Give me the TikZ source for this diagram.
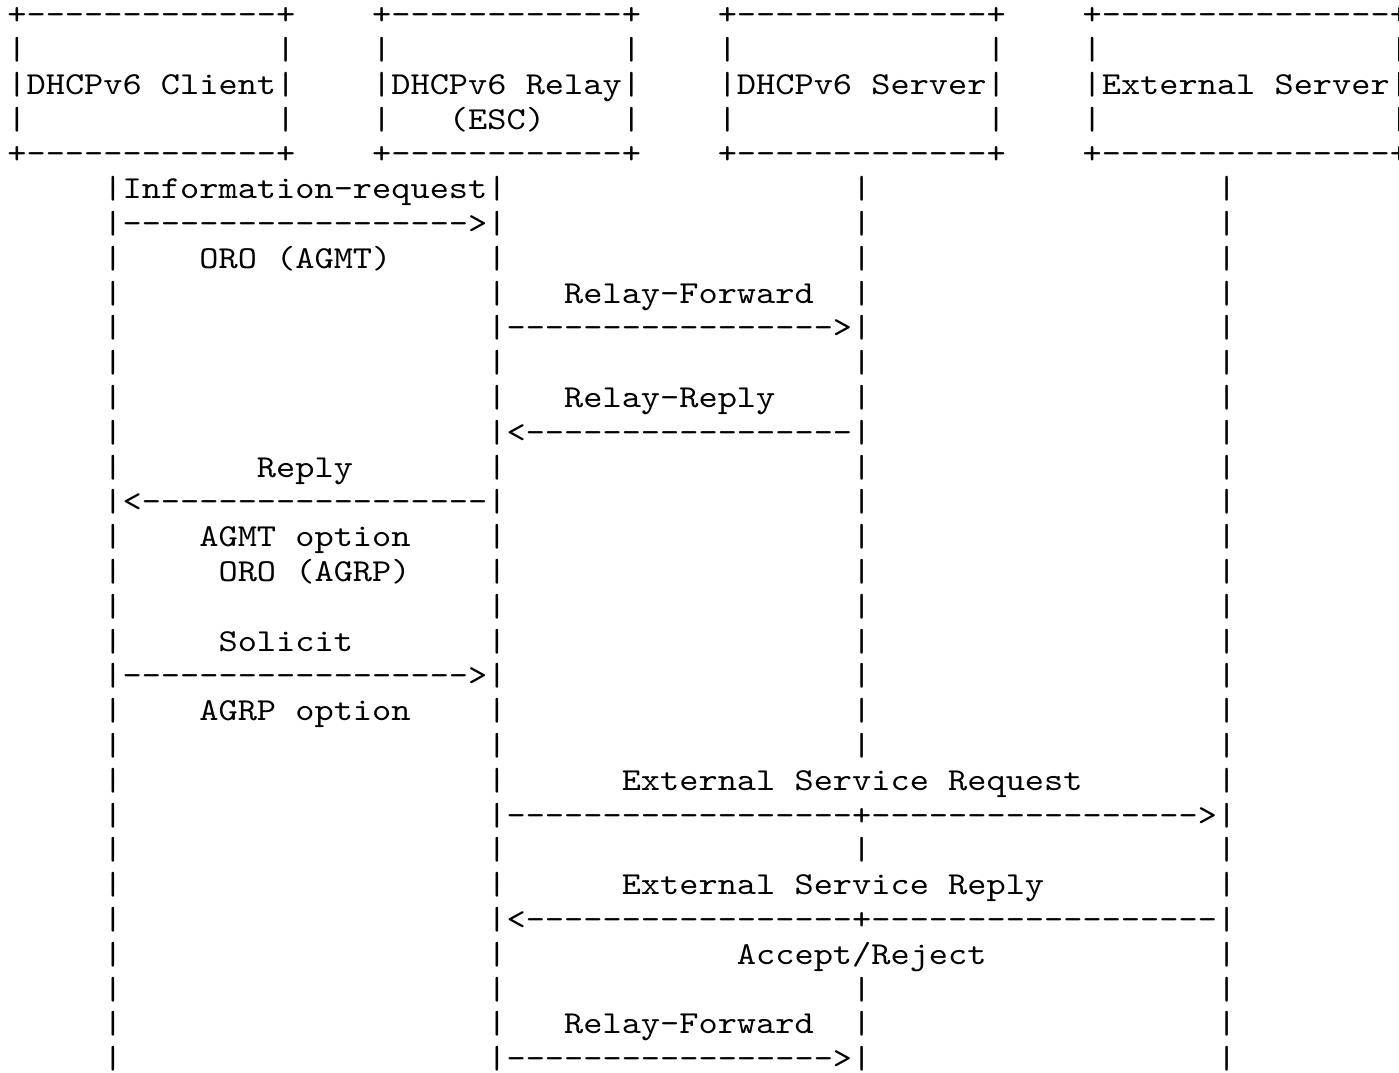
\documentclass[tikz,border=0pt]{standalone}
\usepackage{fontspec}
\setmonofont{lmmono10-regular.otf}[FakeStretch=1.142857]
\usepackage{tikz}

\tikzset{
  ascii/.style={font=\ttfamily\fontsize{10}{10}\selectfont, inner sep=0pt, outer sep=0pt, anchor=base west},
}
% one piece of text at column #1, row #2 of the character grid
\newcommand\chr[3]{\node[ascii] (t#2-#1) at ({2.3125pt+#1*6pt},{-7.7pt-#2*10.875pt}) {#3};}

\begin{document}
\begin{tikzpicture}
	\fill[white] (0,0) rectangle (437.19pt,-335.31pt);
	\useasboundingbox (0,0) rectangle (437.19pt,-335.31pt);
	
	% boxes
	\chr{0}{0}{+-------------+} \chr{0}{4}{+-------------+}
	\chr{19}{0}{+------------+} \chr{19}{4}{+------------+}
	\chr{37}{0}{+-------------+} \chr{37}{4}{+-------------+}
	\chr{56}{0}{+---------------+} \chr{56}{4}{+---------------+}
	\foreach \r in {1,2,3}{
		\chr{0}{\r}{|} \chr{14}{\r}{|}
		\chr{19}{\r}{|} \chr{32}{\r}{|}
		\chr{37}{\r}{|} \chr{51}{\r}{|}
		\chr{56}{\r}{|} \chr{72}{\r}{|}
	}
	\chr{1}{2}{DHCPv6 Client}
	\chr{20}{2}{DHCPv6 Relay}
	\chr{23}{3}{(ESC)}
	\chr{38}{2}{DHCPv6 Server}
	\chr{57}{2}{External Server}
	
	% lifelines
	\foreach \r in {5,...,30}{\chr{5}{\r}{|} \chr{25}{\r}{|} \chr{63}{\r}{|}}
	\foreach \r in {5,...,21,24,28,29,30}{\chr{44}{\r}{|}}
	
	% messages
	\chr{6}{5}{Information-request}
	\chr{6}{6}{------------------>}
	\chr{10}{7}{ORO (AGMT)}
	\chr{29}{8}{Relay-Forward}
	\chr{26}{9}{----------------->}
	\chr{29}{11}{Relay-Reply}
	\chr{26}{12}{<-----------------}
	\chr{13}{13}{Reply}
	\chr{6}{14}{<------------------}
	\chr{10}{15}{AGMT option}
	\chr{11}{16}{ORO (AGRP)}
	\chr{11}{18}{Solicit}
	\chr{6}{19}{------------------>}
	\chr{10}{20}{AGRP option}
	\chr{32}{22}{External Service Request}
	\chr{26}{23}{------------------+----------------->}
	\chr{32}{25}{External Service Reply}
	\chr{26}{26}{<-----------------+------------------}
	\chr{38}{27}{Accept/Reject}
	\chr{29}{29}{Relay-Forward}
	\chr{26}{30}{----------------->}
\end{tikzpicture}
\end{document}
